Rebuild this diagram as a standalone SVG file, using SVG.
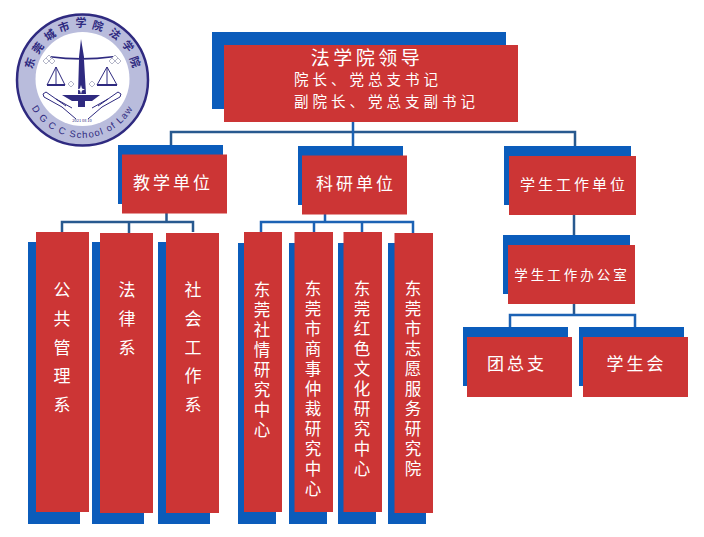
<svg xmlns="http://www.w3.org/2000/svg" width="704" height="537" viewBox="0 0 704 537">
<defs><style>
.b{fill:#0b5cbb}.r{fill:#cc3535}
.c{fill:none;stroke:#28598f;stroke-width:2.5}
.c2{fill:none;stroke:#1c62b4;stroke-width:2.5}
text{font-family:"Noto Sans CJK SC","Noto Sans",sans-serif;fill:#fff;text-anchor:middle}
.t{font-size:17px;letter-spacing:3px}
.s{font-size:14.500px;letter-spacing:4px;text-anchor:start}
.v{font-size:17px}
.w{font-size:16.500px}
.g{fill:none;stroke:#2f2a80}
.d{fill:none;stroke:#b4b6c8;stroke-width:1}
.l{font-size:11px;font-weight:700;fill:#2f2a80}
</style></defs>
<rect width="704" height="537" fill="#fff"/>
<g id="connectors">
<path class="c" d="M171 146V132H575V146M166.500 213V222M62 232V222H193V232M129 222V233M574 215V235M574 304V315"/>
<path class="c2" d="M353 122V146M325 214V222M261 232V222H413V233M314 222V232M362 222V232M510 327V315H635V327"/>
</g>
<g id="logo">
<circle cx="82.500" cy="80" r="65.500" fill="#b9bcdc" stroke="#2f2a80" stroke-width="2.500"/>
<circle cx="82.500" cy="79" r="47" fill="#fff"/>
<path fill="#2f2a80" d="M81 39L84 57V60L86 94H78L79 60V57ZM62 95H100L92 101H85V107H78V101H72ZM50 56Q81 60 113 56L113 57.500Q81 62 50 57.500Z"/>
<path fill="#fff" d="M81 85L82 88.500L85 89.500L82 90.500L81 94L80 90.500L77 89.500L80 88.500Z"/>
<path class="g" stroke-width="2" d="M47 85H65M97 85H117"/>
<path class="g" d="M56 67L47 85M56 67L65 85M56 67V85M107 67L97 85M107 67L117 85M107 67V85"/>
<path class="g" d="M76 119L62 107L44 97L43 94L46 92L66 106M88 119L102 107L120 97L121 94L118 92L98 106M56 99L72 108M108 99L92 108"/>
<path class="d" d="M46 58l3 3l-3 3l-3-3zM52 58l3 3l-3 3l-3-3zM49 55l3 3l-3 3l-3-3zM112 58l3 3l-3 3l-3-3zM118 58l3 3l-3 3l-3-3zM115 55l3 3l-3 3l-3-3zM71 81l3 3l-3 3l-3-3zM92 81l3 3l-3 3l-3-3z"/>
<text x="82" y="122" font-size="4" style="fill:#2f2a80">2021 08 10</text>
<text class="l" transform="translate(30 63) rotate(-72)" y="4">东</text>
<text class="l" transform="translate(38 48) rotate(-54)" y="4">莞</text>
<text class="l" transform="translate(50 35) rotate(-35)" y="4">城</text>
<text class="l" transform="translate(64 27) rotate(-19)" y="4">市</text>
<text class="l" transform="translate(81 23)" y="4">学</text>
<text class="l" transform="translate(98 26) rotate(16)" y="4">院</text>
<text class="l" transform="translate(115 34) rotate(36)" y="4">法</text>
<text class="l" transform="translate(128 46) rotate(54)" y="4">学</text>
<text class="l" transform="translate(135 62) rotate(71)" y="4">院</text>
<path id="lp" fill="none" d="M28 99.800A58 58 0 0 0 137 99.800"/>
<text font-size="9.500" letter-spacing="1.200" style="fill:#2f2a80;font-family:'Liberation Sans',sans-serif"><textPath href="#lp" startOffset="50%">D G C C School of Law</textPath></text>
</g>
<g id="n-top"><rect class="b" x="212" y="32" width="294" height="77"/><rect class="r" x="224" y="45" width="294" height="77"/>
<text x="367" y="65" font-size="19" letter-spacing="3.500">法学院领导</text>
<text class="s" x="294" y="85">院长、党总支书记</text>
<text class="s" x="294" y="107">副院长、党总支副书记</text></g>
<g id="n-jx"><rect class="b" x="118" y="145" width="105" height="59"/><rect class="r" x="122" y="154.500" width="105" height="59"/><text class="t" x="173" y="189">教学单位</text></g>
<g id="n-ky"><rect class="b" x="298" y="146" width="105" height="59"/><rect class="r" x="302" y="155.500" width="105" height="59"/><text class="t" x="356" y="190">科研单位</text></g>
<g id="n-xs"><rect class="b" x="504" y="146" width="127" height="59"/><rect class="r" x="509" y="156" width="127" height="59"/><text x="574" y="190" font-size="15" letter-spacing="3">学生工作单位</text></g>
<g id="n-bgs"><rect class="b" x="503" y="235" width="127" height="59"/><rect class="r" x="508" y="245" width="127" height="59"/><text x="572" y="280" font-size="13.500" letter-spacing="3">学生工作办公室</text></g>
<g id="n-tzz"><rect class="b" x="463" y="327" width="105" height="59"/><rect class="r" x="467" y="337" width="105" height="60"/><text class="t" x="517" y="370">团总支</text></g>
<g id="n-xsh"><rect class="b" x="579" y="327" width="105" height="59"/><rect class="r" x="583" y="337" width="105" height="60"/><text class="t" x="636.500" y="370">学生会</text></g>
<g id="n-ggg"><rect class="b" x="28" y="242" width="52" height="282"/><rect class="r" x="36" y="232" width="53" height="280"/><text class="v" x="62 62 62 62 62" y="296 325 354 382 411">公共管理系</text></g>
<g id="n-fl"><rect class="b" x="92" y="242" width="52" height="282"/><rect class="r" x="100" y="233" width="53" height="280"/><text class="v" x="127 127 127" y="296 325 354">法律系</text></g>
<g id="n-sh"><rect class="b" x="158" y="242" width="52" height="282"/><rect class="r" x="166" y="233" width="53" height="280"/><text class="v" x="193 193 193 193 193" y="296 325 354 382 411">社会工作系</text></g>
<g id="n-sq"><rect class="b" x="238" y="243" width="38" height="281"/><rect class="r" x="244" y="232" width="38" height="280"/><text class="w" x="262 262 262 262 262 262 262 262" y="296 316 336 356 376 396 416 436">东莞社情研究中心</text></g>
<g id="n-ss"><rect class="b" x="289" y="243" width="38" height="281"/><rect class="r" x="294.500" y="232" width="38.500" height="280"/><text class="w" x="313 313 313 313 313 313 313 313 313 313 313" y="295 315 335 355 375 395 415 435 455 475 495">东莞市商事仲裁研究中心</text></g>
<g id="n-hs"><rect class="b" x="338" y="243" width="38" height="281"/><rect class="r" x="343.500" y="232" width="38.500" height="280"/><text class="w" x="362 362 362 362 362 362 362 362 362 362" y="295 315 335 355 375 395 415 435 455 475">东莞红色文化研究中心</text></g>
<g id="n-zy"><rect class="b" x="388" y="243" width="38" height="281"/><rect class="r" x="394.500" y="233" width="38.500" height="280"/><text class="w" x="413 413 413 413 413 413 413 413 413 413" y="295 315 335 355 375 395 415 435 455 475">东莞市志愿服务研究院</text></g>
</svg>
